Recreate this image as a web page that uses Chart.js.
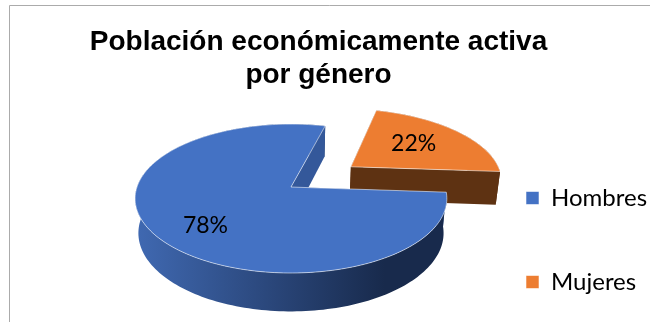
<!DOCTYPE html>
<html>
<head>
<meta charset="utf-8">
<title>Población económicamente activa por género</title>
<script src="https://cdn.jsdelivr.net/npm/chart.js@4/dist/chart.umd.js"></script>
<style>
  html, body { margin: 0; background: #fff; }
  canvas { display: block; }
</style>
</head>
<body>
<canvas id="myChart" width="650" height="322"></canvas>
<script>
const categories = ['Hombres', 'Mujeres'];
const shares = [78, 22];
const labelTexts = ['78%', '22%'];

const topColors = ['#4472C4', '#ED7D31'];
const rimLeftColors = ['#4069B2', '#5E3212'];
const rimRightColors = ['#182A4C', '#5E3212'];
const wallColors = ['#34589A', '#5E3212'];
const labelNudges = [[8, 7], [-13, 2]];

// perspective of the tilted pie
const tilt = {squash: 0.472, persp: 0.1544, shrink: 0.021, depth: 34};

function project(arc, u, v, z) {
    const w = 1 - tilt.persp * v;
    const s = 1 - tilt.shrink * z;
    const r = arc.outerRadius;
    return {
        x: arc.x + u * r * s / w,
        y: arc.y + (v * r * tilt.squash * s + tilt.depth * z) / w
    };
}

function sliceShift(arc) {
    const mid = (arc.startAngle + arc.endAngle) / 2;
    const f = (arc.options.offset || 0) / arc.outerRadius;
    return {u: Math.cos(mid) * f, v: Math.sin(mid) * f};
}

function rimPoints(arc, z) {
    const shift = sliceShift(arc);
    const pts = [];
    const steps = Math.ceil((arc.endAngle - arc.startAngle) * 40);
    for (let i = 0; i <= steps; i++) {
        const a = arc.startAngle + (arc.endAngle - arc.startAngle) * i / steps;
        pts.push(project(arc, shift.u + Math.cos(a), shift.v + Math.sin(a), z));
    }
    return pts;
}

function tracePath(ctx, pts) {
    ctx.beginPath();
    pts.forEach((p, i) => i ? ctx.lineTo(p.x, p.y) : ctx.moveTo(p.x, p.y));
    ctx.closePath();
}

function drawSlice(ctx, arc, i) {
    const shift = sliceShift(arc);
    const top = rimPoints(arc, 0);
    const bottom = rimPoints(arc, 1);
    const apexTop = project(arc, shift.u, shift.v, 0);
    const apexBottom = project(arc, shift.u, shift.v, 1);

    // cut face at the start angle
    ctx.fillStyle = wallColors[i];
    tracePath(ctx, [apexTop, top[0], bottom[0], apexBottom]);
    ctx.fill();

    // outer side
    const xs = top.map(p => p.x);
    const grad = ctx.createLinearGradient(Math.min(...xs), 0, Math.max(...xs), 0);
    grad.addColorStop(0, rimLeftColors[i]);
    grad.addColorStop(0.8, rimRightColors[i]);
    grad.addColorStop(1, rimRightColors[i]);
    ctx.fillStyle = grad;
    tracePath(ctx, top.concat(bottom.slice().reverse()));
    ctx.fill();

    // cut face at the end angle, seen through the gap
    ctx.fillStyle = wallColors[i];
    tracePath(ctx, [apexTop, top[top.length - 1], bottom[bottom.length - 1], apexBottom]);
    ctx.fill();

    // top face
    tracePath(ctx, [apexTop].concat(top));
    ctx.fillStyle = arc.options.backgroundColor;
    ctx.fill();
    ctx.strokeStyle = arc.options.borderColor;
    ctx.lineWidth = arc.options.borderWidth;
    ctx.lineJoin = 'round';
    ctx.stroke();
}

const tiltedPie = {
    id: 'tiltedPie',
    beforeDraw(chart) {
        // chart frame, open on the right and at the bottom
        const ctx = chart.ctx;
        ctx.save();
        ctx.strokeStyle = '#ABABAB';
        ctx.lineWidth = 1;
        ctx.beginPath();
        ctx.moveTo(9.5, 322);
        ctx.lineTo(9.5, 5.5);
        ctx.lineTo(650, 5.5);
        ctx.stroke();
        ctx.restore();
    },
    afterLayout(chart) {
        // title sits left of the page centre, legend beside the pie
        chart.titleBlock.left = 0;
        chart.titleBlock.right = 637;
        const pad = chart.legend.options.labels.padding;
        chart.legend.left = 526 - pad;
        chart.legend.top = 186 - pad;
        chart.legend.bottom = 420;
    },
    beforeDatasetsDraw(chart) {
        const ctx = chart.ctx;
        const arcs = chart.getDatasetMeta(0).data;
        ctx.save();
        // Mujeres goes first so the big slice overlaps it
        for (let i = arcs.length - 1; i >= 0; i--) drawSlice(ctx, arcs[i], i);

        ctx.fillStyle = '#000';
        ctx.font = '23px Lato';
        ctx.textAlign = 'center';
        ctx.textBaseline = 'middle';
        arcs.forEach((arc, i) => {
            const shift = sliceShift(arc);
            const mid = (arc.startAngle + arc.endAngle) / 2;
            const p = project(arc, shift.u + 0.7 * Math.cos(mid), shift.v + 0.7 * Math.sin(mid), 0);
            ctx.fillText(labelTexts[i], p.x + labelNudges[i][0], p.y + labelNudges[i][1]);
        });
        ctx.restore();
        return false;
    }
};

const ctx = document.getElementById('myChart').getContext('2d');
const chart = new Chart(ctx, {
    type: 'pie',
    data: {
        labels: categories,
        datasets: [{
            data: shares,
            backgroundColor: topColors,
            borderColor: 'rgba(255,255,255,0.55)',
            borderWidth: 1,
            radius: 154,
            offset: [0, 77]
        }]
    },
    options: {
        responsive: false,
        animation: false,
        rotation: 94,
        layout: {padding: {left: 123, bottom: 8}},
        plugins: {
            title: {
                display: true,
                text: ['Población económicamente activa', 'por género'],
                color: '#000',
                font: {family: 'Liberation Sans', size: 28, weight: 'bold', lineHeight: 1.18},
                padding: {top: 26, bottom: -32}
            },
            legend: {
                position: 'right',
                align: 'start',
                labels: {
                    boxWidth: 13,
                    boxHeight: 13,
                    padding: 60,
                    color: '#000',
                    font: {family: 'Lato', size: 24}
                }
            },
            tooltip: {enabled: false}
        }
    },
    plugins: [tiltedPie]
});
</script>
</body>
</html>
